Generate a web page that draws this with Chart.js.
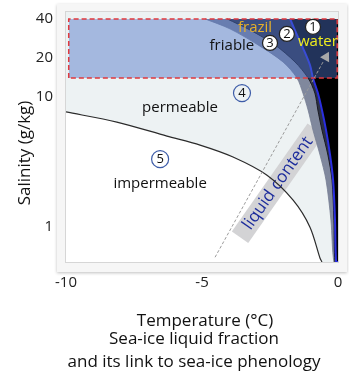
<!DOCTYPE html>
<html>
<head>
<meta charset="utf-8">
<script src="https://cdn.jsdelivr.net/npm/chart.js@4.4.0/dist/chart.umd.min.js"></script>
<style>
  html, body { margin: 0; padding: 0; background: #fff; }
  #wrap { width: 349px; height: 373px; }
</style>
</head>
<body>
<div id="wrap"><canvas id="chart" width="349" height="373"></canvas></div>
<script>
// ticks
const xTicks = [-10, -5, 0];
const yTicks = [1, 10, 20, 40];

// impermeable limit (white below)
const impermT = [-10, -8.13, -6.29, -5.07, -3.86, -2.61, -1.65, -1.03, -0.66, -0.59];
const impermS = [7.66, 6.40, 4.99, 4.25, 3.44, 2.49, 1.60, 0.99, 0.57, 0.533];

// friable limit
const friableT = [-4.89, -3.97, -2.94, -2.02, -1.51, -1.29, -1.10, -0.92, -0.66, -0.44, -0.26, -0.15, 0];
const friableS = [40, 33.5, 25.2, 18.6, 14.0, 10.7, 7.93, 5.55, 3.56, 2.28, 1.12, 0.533, 0.533];

// frazil limit
const frazilT = [-4.08, -3.24, -2.32, -1.58, -1.10, -0.85, -0.74, -0.59, -0.37, -0.22, -0.15, -0.11, 0];
const frazilS = [40, 32.9, 25.2, 18.6, 14.0, 10.7, 7.93, 5.55, 3.56, 2.28, 1.12, 0.533, 0.533];

// freezing line (water on the right)
const waterT = [-1.76, -1.51, -1.29, -1.03, -0.92, -0.74, -0.59, -0.44, -0.29, -0.18, -0.11, -0.07, 0];
const waterS = [40, 30.1, 23.9, 17.6, 14.0, 10.7, 7.93, 5.55, 3.56, 2.28, 1.12, 0.533, 0.533];

// sea water salinity band
const bandT = [-9.9, -0.03];
const bandS = [14, 40];

// "liquid content" arrow
const arrowT = [-4.52, -0.55];
const arrowS = [0.58, 18.6];
const arrowHeadT = [-0.44];
const arrowHeadS = [20.3];

const pts = (xs, ys) => xs.map((v, i) => ({x: v, y: ys[i]}));

Chart.defaults.font.family = "'Open Sans', sans-serif";
Chart.defaults.color = '#222';

// texts placed in data coords
const words = [
    {text: 'frazil', x: -3.05, y: 34.0, color: '#e6b02a'},
    {text: 'water', x: -0.74, y: 26.6, color: '#f0ee1e'},
    {text: 'friable', x: -3.90, y: 24.7, color: '#111'},
    {text: 'permeable', x: -5.81, y: 8.2, color: '#111'},
    {text: 'impermeable', x: -6.54, y: 2.13, color: '#111'}
];
const marks = [
    {n: '1', x: -0.92, y: 34.7, fill: '#fff', stroke: '#222', r: 7.5},
    {n: '2', x: -1.88, y: 30.6, fill: '#fff', stroke: '#222', r: 7.5},
    {n: '3', x: -2.50, y: 26.1, fill: '#fff', stroke: '#222', r: 7.5},
    {n: '4', x: -3.53, y: 10.7, fill: null, stroke: '#3d5ca8', r: 8.5},
    {n: '5', x: -6.54, y: 3.31, fill: null, stroke: '#3d5ca8', r: 8.5}
];

const framePlugin = {
    id: 'frame',
    beforeDraw(chart) {
        const {ctx, chartArea: a} = chart;
        ctx.save();
        ctx.fillStyle = '#fff';
        ctx.fillRect(0, 0, chart.width, chart.height);
        ctx.shadowColor = 'rgba(0,0,0,0.25)';
        ctx.shadowBlur = 3;
        ctx.shadowOffsetY = 1;
        ctx.fillStyle = '#f6f6f6';
        ctx.fillRect(57, 4, 290, 268);
        ctx.shadowColor = 'transparent';
        ctx.fillStyle = '#edf2f3';
        ctx.fillRect(a.left, a.top, a.right - a.left, a.bottom - a.top);
        ctx.strokeStyle = '#d6d6d6';
        ctx.lineWidth = 1;
        ctx.strokeRect(a.left - 0.5, a.top - 0.5, a.right - a.left + 1, a.bottom - a.top + 1);
        ctx.restore();
    },
    afterDatasetDraw(chart, args) {
        if (chart.data.datasets[args.index].label !== 'impermeable') return;
        const {ctx, scales: {x, y}} = chart;
        const cx = x.getPixelForValue(-2.21), cy = y.getPixelForValue(2.16);
        ctx.save();
        ctx.translate(cx, cy);
        ctx.rotate(-55 * Math.PI / 180);
        ctx.fillStyle = '#d3d3d5';
        ctx.fillRect(-66, -10, 132, 20);
        ctx.fillStyle = '#1c2c9c';
        ctx.font = "17px 'Open Sans'";
        ctx.textAlign = 'center';
        ctx.textBaseline = 'middle';
        ctx.fillText('liquid content', 0, 0);
        ctx.restore();
    },
    afterDatasetsDraw(chart) {
        const {ctx, scales: {x, y}} = chart;
        ctx.save();
        ctx.textAlign = 'center';
        ctx.textBaseline = 'middle';
        ctx.font = "15px 'Open Sans'";
        words.forEach(w => {
            ctx.fillStyle = w.color;
            ctx.fillText(w.text, x.getPixelForValue(w.x), y.getPixelForValue(w.y));
        });
        marks.forEach(m => {
            const px = x.getPixelForValue(m.x), py = y.getPixelForValue(m.y);
            ctx.beginPath();
            ctx.arc(px, py, m.r, 0, Math.PI * 2);
            if (m.fill) { ctx.fillStyle = m.fill; ctx.fill(); }
            ctx.lineWidth = 1.2;
            ctx.strokeStyle = m.stroke;
            ctx.stroke();
            ctx.fillStyle = '#111';
            ctx.font = "13px 'Open Sans'";
            ctx.fillText(m.n, px, py + 0.5);
        });
        ctx.restore();
    },
    afterDraw(chart) {
        const {ctx} = chart;
        ctx.save();
        ctx.fillStyle = '#111';
        ctx.font = "17px 'Open Sans'";
        ctx.textAlign = 'center';
        ctx.textBaseline = 'alphabetic';
        ctx.fillText('Temperature (°C)', 205, 326);
        ctx.fillText('Sea-ice liquid fraction', 194, 344);
        ctx.fillText('and its link to sea-ice phenology', 194, 367);
        ctx.translate(25, 153);
        ctx.rotate(-Math.PI / 2);
        ctx.textBaseline = 'middle';
        ctx.fillText('Salinity (g/kg)', 0, 0);
        ctx.restore();
    }
};

const curve = {pointRadius: 0, tension: 0.3};

new Chart(document.getElementById('chart'), {
    type: 'line',
    data: {
        datasets: [
            Object.assign({label: 'impermeable', data: pts(impermT, impermS), borderWidth: 0,
                backgroundColor: '#ffffff', fill: 'start', order: 9}, curve),
            Object.assign({label: 'impermeable limit', data: pts(impermT, impermS), borderWidth: 1.2,
                borderColor: '#2b2b2b', fill: false, order: 8}, curve),
            Object.assign({label: 'friable', data: pts(friableT, friableS), borderWidth: 0.8,
                borderColor: '#767e93', backgroundColor: '#80889d', fill: {value: 40}, order: 7}, curve),
            Object.assign({label: 'frazil', data: pts(frazilT, frazilS), borderWidth: 1,
                borderColor: '#1a1a22', backgroundColor: '#2c3146', fill: {value: 40}, order: 6}, curve),
            Object.assign({label: 'water', data: pts(waterT, waterS), borderWidth: 2,
                borderColor: '#2a2ee0', backgroundColor: '#000000', fill: {value: 40}, order: 5}, curve),
            {label: 'sea water', data: pts(bandT, [bandS[1], bandS[1]]), borderWidth: 0, pointRadius: 0,
                backgroundColor: 'rgba(76,114,200,0.45)', fill: {value: bandS[0]}, order: 4},
            {label: 'sea water edge', pointRadius: 0, fill: false, order: 3,
                data: pts([bandT[0], bandT[0], bandT[1], bandT[1], bandT[0]], [bandS[0], bandS[1], bandS[1], bandS[0], bandS[0]]),
                borderColor: '#e0393e', borderWidth: 1.5, borderDash: [5, 3]},
            {label: 'liquid content', data: pts(arrowT, arrowS), pointRadius: 0, fill: false, order: 2,
                borderColor: '#9c9c9c', borderWidth: 1, borderDash: [3, 2]},
            {label: 'arrow head', data: pts(arrowHeadT, arrowHeadS), showLine: false, order: 1,
                pointStyle: 'triangle', pointRadius: 6, rotation: 29, pointRotation: 29,
                backgroundColor: '#a8a8a8', borderWidth: 0}
        ]
    },
    options: {
        responsive: false,
        animation: false,
        events: [],
        layout: {padding: {left: 20, right: 11, top: 12, bottom: 0}},
        plugins: {legend: {display: false}, tooltip: {enabled: false}},
        scales: {
            x: {
                type: 'linear', min: -10, max: 0,
                afterBuildTicks: s => { s.ticks = xTicks.map(v => ({value: v})); },
                afterFit: s => { s.height = 111; s.paddingLeft = 0; s.paddingRight = 0; },
                grid: {display: false, drawTicks: false},
                border: {display: false},
                ticks: {font: {size: 15}, padding: 12, maxRotation: 0, callback: v => String(v)}
            },
            y: {
                type: 'logarithmic', min: 0.533, max: 45.2,
                afterBuildTicks: s => { s.ticks = yTicks.map(v => ({value: v})); },
                afterFit: s => { s.width = 46; s.paddingTop = 0; s.paddingBottom = 0; },
                grid: {display: false, drawTicks: false},
                border: {display: false},
                ticks: {font: {size: 15}, padding: 13, callback: v => String(v)}
            }
        }
    },
    plugins: [framePlugin]
});
</script>
</body>
</html>
